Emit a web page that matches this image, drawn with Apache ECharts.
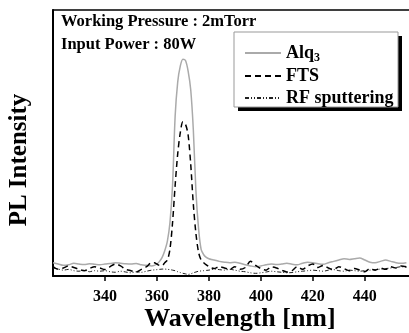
<!DOCTYPE html>
<html>
<head>
<meta charset="utf-8">
<script src="https://cdn.jsdelivr.net/npm/echarts@6/dist/echarts.min.js"></script>
<style>html,body{margin:0;padding:0;background:#fff}#c{width:409px;height:333px}</style>
</head>
<body>
<div id="c"></div>
<script>
var wavelengths = [320,322,324,326,328,330,332,334,336,338,340,342,344,346,348,350,352,354,356,358,
  359,360,361,362,363,364,365,366,367,368,369,370,371,372,373,374,375,376,377,378,379,380,381,
  382,384,386,388,390,392,394,396,398,400,402,404,406,408,410,412,414,416,418,420,422,424,426,428,430,432,434,436,438,440,442,444,446,448,450,452,454,456];
var alq3 = [5,4.5,4,4.2,4.8,4.5,4.3,4.6,4.4,4.2,4.5,4.7,5,4.8,4.6,4.5,4.7,4.2,4.0,3.8,
  4,4.5,5.5,7,9.5,13,20,34,60,73,79,81.5,81,77,70,55,32,18,10,8,7,6.5,6.2,
  6,5.5,5.2,5,5.2,4.8,4.2,3.8,3.5,3.8,4.2,4.5,4.3,4.5,4.8,4.4,4.2,4.8,5.2,5,4.6,4.4,5,5.5,6,6.5,6.2,6.5,6.8,6,5.2,5,5.5,6,5.5,5,4.8,5];
var fts = [3.5,2.5,3,3.8,3.2,2.5,2,2.8,3.5,3,2.4,3.5,4.5,3.8,2.5,2,1.5,2.5,3.5,5,
  5,4.5,4,4,5,6,10,20,34,46,54,58,57,53,42,27,16,9,6,5,4.2,3.5,3,
  2.8,3.5,3,2.5,3.5,2.5,3.2,5.5,4,2.8,2.2,3.4,3,2.2,1.5,2,3.5,2.5,3.8,4.5,3.2,4,3,2.4,3.5,2.8,2,2.8,2.2,1.6,2.8,2.2,3,2.5,3.5,3,3.8,3.5];
var rf = [3,2.6,2.2,2.5,2,1.8,2.2,1.6,2,1.8,2,1.6,1.4,1.8,1.5,1.2,1.6,1.4,1.8,2.2,
  2.3,2.4,2.5,2.6,2.6,2.5,2.4,2.2,2,1.6,1.3,1,0.8,0.6,0.8,1.2,1.5,1.8,1.9,2,2.1,2.2,2.4,
  2.6,2.4,2.2,2.5,2.2,1.8,1.6,1.2,1.0,1.2,1.5,1.8,1.6,1.4,1.2,1.3,1.6,1.8,2.0,2.2,2.0,1.8,2.2,2.4,2.0,1.8,2.2,2.0,1.8,2.0,2.2,2.4,2.6,2.8,3,3.2,3.5,3.2];
var seriesNames = ['Alq3','FTS','RF sputtering'];
var xTickLabels = [340,360,380,400,420,440];

function pairs(v){ return wavelengths.map(function(w,i){ return [w, v[i]]; }); }
var serif = '"Liberation Serif","Times New Roman",serif';
var chart = echarts.init(document.getElementById('c'));
chart.setOption({
  animation:false,
  backgroundColor:'#fff',
  grid:{left:53, top:10, right:-2, bottom:57, show:false},
  xAxis:[{type:'value', min:320, max:457, interval:20,
    axisLine:{show:true, lineStyle:{color:'#000', width:2}},
    axisTick:{show:true, inside:false, length:5, lineStyle:{color:'#000', width:1.5}},
    splitLine:{show:false},
    axisLabel:{showMinLabel:false, showMaxLabel:false, color:'#000', fontFamily:serif, fontWeight:'bold', fontSize:16, margin:13,
      formatter:function(v){ return xTickLabels.indexOf(v) >= 0 ? String(v) : ''; }}
  },{type:'value', position:'top', min:320, max:457,
    axisLine:{show:true, lineStyle:{color:'#000', width:1.5}},
    axisTick:{show:false}, axisLabel:{show:false}, splitLine:{show:false}}],
  yAxis:{type:'value', min:0, max:100,
    axisLine:{show:true, lineStyle:{color:'#000', width:2}},
    axisTick:{show:false}, axisLabel:{show:false}, splitLine:{show:false}},
  legend:{orient:'vertical', left:244, top:42, itemGap:2, itemWidth:36, itemHeight:14, z:20, padding:0,
    data:seriesNames,
    itemStyle:{opacity:0, borderWidth:0},
    textStyle:{color:'#000', fontFamily:serif, fontWeight:'bold', fontSize:18, lineHeight:20,
      rich:{a:{fontFamily:serif, fontWeight:'bold', fontSize:18, lineHeight:22, color:'#000'},
            s:{fontFamily:serif, fontWeight:'bold', fontSize:12, lineHeight:12, color:'#000', padding:[10,0,0,0]}}},
    formatter:function(n){ return n === 'Alq3' ? '{a|Alq}{s|3}' : n; }
  },
  graphic:[
    {type:'rect', z:14, shape:{x:238, y:36, width:164, height:75}, style:{fill:'#000'}},
    {type:'rect', z:15, shape:{x:234, y:32, width:164, height:75}, style:{fill:'#fff', stroke:'#999', lineWidth:1}},
    {type:'text', z:20, left:61, top:13, style:{text:'Working Pressure : 2mTorr', font:'bold 16.5px '+serif, fill:'#000'}},
    {type:'text', z:20, left:61, top:36, style:{text:'Input Power : 80W', font:'bold 16.5px '+serif, fill:'#000'}},
    {type:'text', z:20, x:240, y:319, style:{text:'Wavelength [nm]', font:'bold 26px '+serif, fill:'#000', align:'center', verticalAlign:'middle'}},
    {type:'text', z:20, x:20, y:160, rotation:Math.PI/2, style:{text:'PL Intensity', font:'bold 25px '+serif, fill:'#000', align:'center', verticalAlign:'middle'}}
  ],
  series:[
    {name:'Alq3', type:'line', symbol:'circle', showSymbol:false, data:pairs(alq3), smooth:0.3, lineStyle:{color:'#aaa', width:1.5}, itemStyle:{color:'#aaa'}, z:3},
    {name:'FTS', type:'line', symbol:'circle', showSymbol:false, data:pairs(fts), smooth:0.3, lineStyle:{color:'#000', width:1.5, type:[6,4]}, itemStyle:{color:'#000'}, z:4},
    {name:'RF sputtering', type:'line', symbol:'circle', showSymbol:false, data:pairs(rf), smooth:0.3, lineStyle:{color:'#222', width:1, type:[4,2,1,2,1,2]}, itemStyle:{color:'#222'}, z:2}
  ]
});
</script>
</body>
</html>
